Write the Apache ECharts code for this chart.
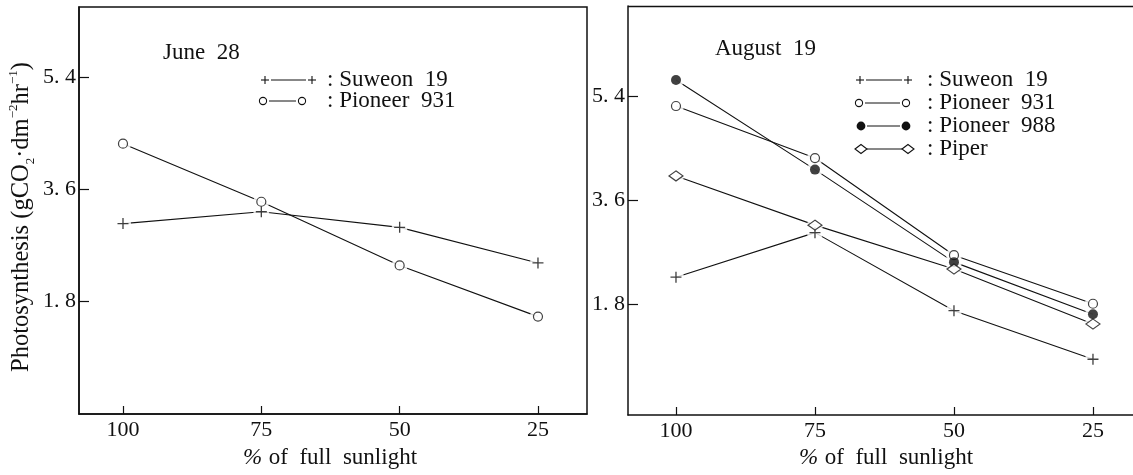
<!DOCTYPE html>
<html><head><meta charset="utf-8">
<script src="https://cdn.jsdelivr.net/npm/echarts@6/dist/echarts.min.js"></script>
<style>html,body{margin:0;padding:0;background:#fff}#c{width:1133px;height:475px}</style>
</head><body><div id="c"></div>
<script>
// ---- data ----
const sunlight = [100, 75, 50, 25];
const xTicks = [100, 75, 50, 25];
const yTicks = [1.8, 3.6, 5.4];
const juneSuweon19 = [3.05, 3.24, 2.99, 2.42];
const junePioneer931 = [4.33, 3.40, 2.38, 1.56];
const augSuweon19 = [2.27, 3.04, 1.69, 0.85];
const augPioneer931 = [5.23, 4.33, 2.65, 1.81];
const augPioneer988 = [5.68, 4.13, 2.53, 1.63];
const augPiper = [4.02, 3.17, 2.41, 1.46];
const panelTitles = ['June  28', 'August  19'];
const xAxisTitle = 'of  full  sunlight';

// ---- styles ----
const INK = '#111';
const SERIF = '"Liberation Serif", "DejaVu Serif", serif';
const PLUS = 'path://M4.4,0H5.6V4.4H10V5.6H5.6V10H4.4V5.6H0V4.4H4.4Z';
const markers = {
  plus:    { symbol: PLUS, symbolSize: 11, itemStyle: { color: INK } },
  open:    { symbol: 'circle', symbolSize: 9, itemStyle: { color: '#fff', borderColor: INK, borderWidth: 1.2 } },
  filled:  { symbol: 'circle', symbolSize: 10, itemStyle: { color: INK } },
  diamond: { symbol: 'diamond', symbolSize: [14, 10], itemStyle: { color: '#fff', borderColor: INK, borderWidth: 1.2 } }
};
const pairs = vals => sunlight.map((x, i) => [x, vals[i]]);

function makeSeries(name, vals, marker, gi) {
  const d = pairs(vals);
  return [
    { name, type: 'line', xAxisIndex: gi, yAxisIndex: gi, data: d, symbol: 'none', z: 2,
      lineStyle: { color: INK, width: 1.1 }, animation: false, silent: true },
    { name: name + '_halo', type: 'scatter', xAxisIndex: gi, yAxisIndex: gi, data: d, z: 3,
      symbol: 'circle', symbolSize: 16, itemStyle: { color: '#fff' }, animation: false, silent: true },
    Object.assign({ name: name + '_mk', type: 'scatter', xAxisIndex: gi, yAxisIndex: gi, data: d, z: 4,
      animation: false, silent: true }, JSON.parse(JSON.stringify(markers[marker])))
  ];
}

const series = [].concat(
  makeSeries('Suweon 19 (Jun)', juneSuweon19, 'plus', 0),
  makeSeries('Pioneer 931 (Jun)', junePioneer931, 'open', 0),
  makeSeries('Suweon 19 (Aug)', augSuweon19, 'plus', 1),
  makeSeries('Pioneer 931 (Aug)', augPioneer931, 'open', 1),
  makeSeries('Pioneer 988 (Aug)', augPioneer988, 'filled', 1),
  makeSeries('Piper (Aug)', augPiper, 'diamond', 1)
);

function xAxis(gi, min, max) {
  return {
    gridIndex: gi, type: 'value', inverse: true, min, max,
    axisLine: { show: true, onZero: false, lineStyle: { color: INK, width: 1.5 } },
    axisTick: { show: true, inside: true, length: 8, customValues: xTicks, lineStyle: { color: INK, width: 1.2 } },
    axisLabel: { customValues: xTicks, fontFamily: SERIF, fontSize: 22, color: INK, margin: 5 },
    splitLine: { show: false }
  };
}
function yAxis(gi, min, max) {
  return {
    gridIndex: gi, type: 'value', min, max,
    axisLine: { show: true, onZero: false, lineStyle: { color: INK, width: 1.5 } },
    axisTick: { show: true, inside: true, length: 10, customValues: yTicks, lineStyle: { color: INK, width: 1.2 } },
    axisLabel: { customValues: yTicks, fontFamily: SERIF, fontSize: 22, color: INK, margin: 3,
      formatter: v => v.toFixed(1).replace('.', '. ') },
    splitLine: { show: false }
  };
}

// ---- legend graphics ----
function legendSymbol(kind, x, y) {
  if (kind === 'plus') return [
    { type: 'line', shape: { x1: x - 4, y1: y, x2: x + 4, y2: y }, style: { stroke: INK, lineWidth: 1.1 } },
    { type: 'line', shape: { x1: x, y1: y - 4, x2: x, y2: y + 4 }, style: { stroke: INK, lineWidth: 1.1 } }
  ];
  if (kind === 'open') return [{ type: 'circle', shape: { cx: x, cy: y, r: 3.6 }, style: { fill: '#fff', stroke: INK, lineWidth: 1.1 } }];
  if (kind === 'filled') return [{ type: 'circle', shape: { cx: x, cy: y, r: 4.4 }, style: { fill: INK } }];
  return [{ type: 'polygon', shape: { points: [[x - 6, y], [x, y - 4.5], [x + 6, y], [x, y + 4.5]] }, style: { fill: '#fff', stroke: INK, lineWidth: 1.1 } }];
}
function legendRow(kind, label, x1, x2, xt, y) {
  return [
    { type: 'line', shape: { x1: x1 + 6, y1: y, x2: x2 - 6, y2: y }, style: { stroke: INK, lineWidth: 1 } },
    ...legendSymbol(kind, x1, y), ...legendSymbol(kind, x2, y),
    { type: 'text', x: xt, y: y, style: { text: ':\u00a0' + label, font: '23px ' + SERIF, fill: INK, verticalAlign: 'middle', align: 'left' } }
  ];
}

const xTitleRich = { p: { fontFamily: SERIF, fontSize: 23, fontStyle: 'italic', fill: INK }, t: { fontFamily: SERIF, fontSize: 23, fill: INK } };

const graphic = [].concat(
  legendRow('plus', 'Suweon  19', 265, 312, 327, 80),
  legendRow('open', 'Pioneer  931', 263, 302, 327, 101),
  legendRow('plus', 'Suweon  19', 860, 908, 927, 80),
  legendRow('open', 'Pioneer  931', 859, 906, 927, 103),
  legendRow('filled', 'Pioneer  988', 861, 906, 927, 126),
  legendRow('diamond', 'Piper', 861, 908, 927, 149),
  [
    // top frame line of the right panel (its right edge runs off the page)
    { type: 'line', shape: { x1: 628, y1: 6.5, x2: 1133, y2: 6.5 }, style: { stroke: INK, lineWidth: 1.5 } },
    { type: 'text', x: 163, y: 53, style: { text: panelTitles[0], font: '23px ' + SERIF, fill: INK, verticalAlign: 'middle' } },
    { type: 'text', x: 715, y: 49, style: { text: panelTitles[1], font: '23px ' + SERIF, fill: INK, verticalAlign: 'middle' } },
    { type: 'text', x: 330, y: 458, style: { text: '{p|%}  {t|' + xAxisTitle + '}', align: 'center', verticalAlign: 'middle', fill: INK, rich: xTitleRich } },
    { type: 'text', x: 886, y: 458, style: { text: '{p|%}  {t|' + xAxisTitle + '}', align: 'center', verticalAlign: 'middle', fill: INK, rich: xTitleRich } },
    { type: 'text', x: 22, y: 217, rotation: Math.PI / 2,
      style: { text: '{m|Photosynthesis (gCO}{sub|2}{m|·dm}{sup|−2}{m|hr}{sup|−1}{m|)}', align: 'center', verticalAlign: 'middle', fill: INK,
        rich: {
          m: { fontFamily: SERIF, fontSize: 24.5, lineHeight: 30, fill: INK },
          sub: { fontFamily: SERIF, fontSize: 13, lineHeight: 20, verticalAlign: 'bottom', fill: INK },
          sup: { fontFamily: SERIF, fontSize: 13, lineHeight: 16, verticalAlign: 'top', fill: INK }
        } } }
  ]
);

const chart = echarts.init(document.getElementById('c'), null, { renderer: 'canvas' });
chart.setOption({
  animation: false,
  backgroundColor: '#fff',
  grid: [
    { left: 79, top: 7, width: 508, height: 407, show: true, borderColor: INK, borderWidth: 1.5, containLabel: false },
    { left: 628, top: 6, right: 0, height: 409, show: false, containLabel: false }
  ],
  xAxis: [xAxis(0, 16.14, 107.95), xAxis(1, 17.8, 108.63)],
  yAxis: [yAxis(0, 0, 6.52), yAxis(1, -0.114, 6.96)],
  series,
  graphic
});
</script></body></html>
